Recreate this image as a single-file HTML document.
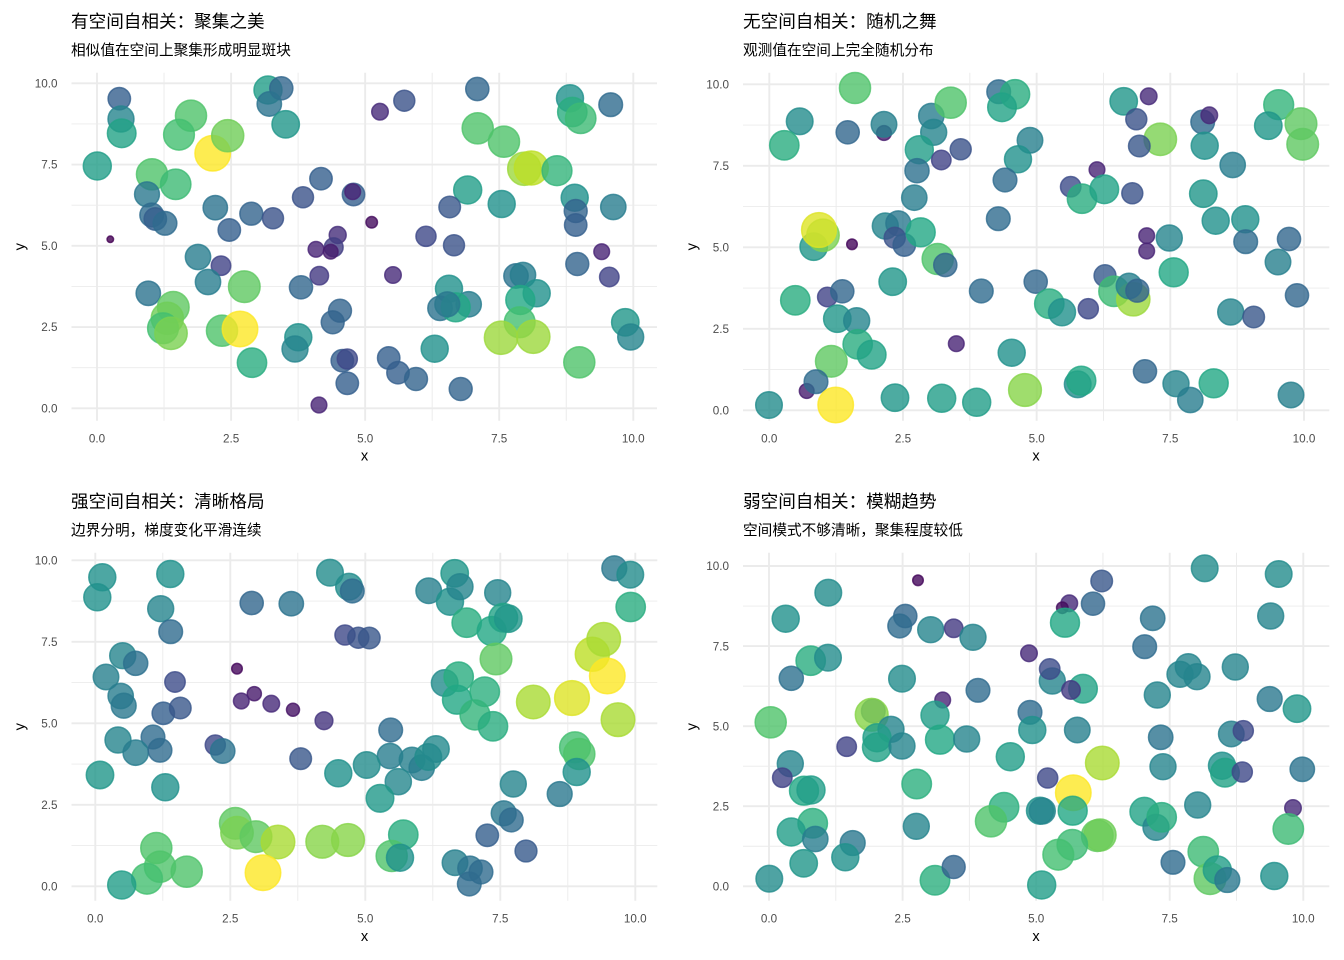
<!DOCTYPE html>
<html><head><meta charset="utf-8">
<style>
html,body{margin:0;padding:0;background:#fff;}
svg{display:block}
text{font-family:"Liberation Sans","Noto Sans CJK SC",sans-serif;}
.t{font-size:17.6px;fill:#000}
.st{font-size:14.67px;fill:#000}
.tk{font-size:11.7px;fill:#4D4D4D}
.ax{font-size:14.67px;fill:#000}
</style></head><body>
<svg id="s" width="1344" height="960" xmlns="http://www.w3.org/2000/svg">
<g id="grid"></g>
<g id="pts"></g>
<!-- titles -->
<text class="t" x="71" y="27.5">有空间自相关：聚集之美</text>
<text class="st" x="71" y="55">相似值在空间上聚集形成明显斑块</text>
<text class="t" x="743" y="27.5">无空间自相关：随机之舞</text>
<text class="st" x="743" y="55">观测值在空间上完全随机分布</text>
<text class="t" x="71" y="507.5">强空间自相关：清晰格局</text>
<text class="st" x="71" y="535">边界分明，梯度变化平滑连续</text>
<text class="t" x="743" y="507.5">弱空间自相关：模糊趋势</text>
<text class="st" x="743" y="535">空间模式不够清晰，聚集程度较低</text>
<!-- P1 ticks -->
<g class="tk" text-anchor="middle">
<text x="97" y="442.5">0.0</text><text x="231.1" y="442.5">2.5</text><text x="365.2" y="442.5">5.0</text><text x="499.2" y="442.5">7.5</text><text x="633.3" y="442.5">10.0</text>
<text x="769.3" y="442.5">0.0</text><text x="903" y="442.5">2.5</text><text x="1036.7" y="442.5">5.0</text><text x="1170.3" y="442.5">7.5</text><text x="1304" y="442.5">10.0</text>
<text x="95.3" y="922.5">0.0</text><text x="230.3" y="922.5">2.5</text><text x="365.3" y="922.5">5.0</text><text x="500.3" y="922.5">7.5</text><text x="635.3" y="922.5">10.0</text>
<text x="769" y="922.5">0.0</text><text x="902.6" y="922.5">2.5</text><text x="1036.2" y="922.5">5.0</text><text x="1169.7" y="922.5">7.5</text><text x="1303.3" y="922.5">10.0</text>
</g>
<g class="tk" text-anchor="end">
<text x="57.5" y="412.5">0.0</text><text x="57.5" y="331.2">2.5</text><text x="57.5" y="250">5.0</text><text x="57.5" y="168.7">7.5</text><text x="57.5" y="87.5">10.0</text>
<text x="729" y="414.5">0.0</text><text x="729" y="333">2.5</text><text x="729" y="251.5">5.0</text><text x="729" y="170">7.5</text><text x="729" y="88.5">10.0</text>
<text x="57.5" y="890.5">0.0</text><text x="57.5" y="809">2.5</text><text x="57.5" y="727.5">5.0</text><text x="57.5" y="646">7.5</text><text x="57.5" y="564.5">10.0</text>
<text x="729" y="890.5">0.0</text><text x="729" y="810.4">2.5</text><text x="729" y="730.4">5.0</text><text x="729" y="650.4">7.5</text><text x="729" y="570.2">10.0</text>
</g>
<!-- axis titles -->
<g class="ax" text-anchor="middle">
<text x="364.5" y="460.5">x</text><text x="1036" y="460.5">x</text>
<text x="364.5" y="941">x</text><text x="1036" y="941">x</text>
<text transform="translate(24.5,246.7) rotate(-90)">y</text>
<text transform="translate(696.5,246.7) rotate(-90)">y</text>
<text transform="translate(24.5,726.7) rotate(-90)">y</text>
<text transform="translate(696.5,726.7) rotate(-90)">y</text>
</g>
</svg>
<script>
(function(){
var NS="http://www.w3.org/2000/svg";
var stops=[[68,1,84],[72,36,117],[65,68,135],[53,95,141],[42,120,142],[33,145,140],[34,168,132],[68,191,112],[122,209,81],[189,223,38],[253,231,37]];
function vir(v){v=Math.max(0,Math.min(1,v));var f=v*10,i=Math.min(9,Math.floor(f)),t=f-i,a=stops[i],b=stops[i+1];
return "rgb("+Math.round(a[0]+(b[0]-a[0])*t)+","+Math.round(a[1]+(b[1]-a[1])*t)+","+Math.round(a[2]+(b[2]-a[2])*t)+")";}
var grid=document.getElementById("grid"),pts=document.getElementById("pts");
function line(x1,y1,x2,y2,w){var l=document.createElementNS(NS,"line");l.setAttribute("x1",x1);l.setAttribute("y1",y1);l.setAttribute("x2",x2);l.setAttribute("y2",y2);l.setAttribute("stroke","#EBEBEB");l.setAttribute("stroke-width",w);grid.appendChild(l);}
var panels=[
{l:71.5,r:657,t:72.7,b:420.7,x0:97,x10:633.3,y0:408.3,y10:83.3},
{l:743,r:1329.3,t:72.7,b:420.7,x0:769.3,x10:1304,y0:410.3,y10:84.3},
{l:71.5,r:657.3,t:552.7,b:900.7,x0:95.3,x10:635.3,y0:886.3,y10:560.3},
{l:743,r:1329.3,t:552.7,b:900.7,x0:769,x10:1303.3,y0:886.3,y10:566}
];
panels.forEach(function(p){
 [1.25,3.75,6.25,8.75].forEach(function(u){
  var x=p.x0+(p.x10-p.x0)*u/10; line(x,p.t,x,p.b,0.95);
  var y=p.y0+(p.y10-p.y0)*u/10; line(p.l,y,p.r,y,0.95);
 });
 [0,2.5,5,7.5,10].forEach(function(u){
  var x=p.x0+(p.x10-p.x0)*u/10; line(x,p.t,x,p.b,1.9);
  var y=p.y0+(p.y10-p.y0)*u/10; line(p.l,y,p.r,y,1.9);
 });
});
var D=[
[[119.3,98.7,.3],[121,119,.45],[121.7,133.3,.58],[97.3,166,.55],[152,174.3,.72],[175.7,184.3,.68],[147,194.3,.4],[151.7,215,.35],[155.3,219,.3],[165,223.3,.35],[110.3,239.3,0],[191,115.7,.72],[179,134.7,.7],[212.7,153.3,1],[227.7,135.7,.78],[268,90,.55],[281.3,88.3,.33],[269.3,104,.38],[285.7,124.3,.52],[321,178.7,.3],[303,197.3,.25],[353.5,194.5,.3],[352.7,191.7,.1],[215.3,207.7,.38],[251.3,213.7,.32],[273,218.3,.25],[229.3,230,.3],[337.7,235,.13],[333.7,247.3,.18],[316,249.3,.1],[330.7,251.7,.08],[198,257,.42],[221,265.7,.2],[319.3,275.7,.17],[208,282,.42],[244.3,286.7,.75],[301,287.3,.33],[148.3,293.3,.38],[173.3,307.3,.75],[167.3,318.3,.78],[163,328.3,.7],[171,333.3,.8],[222,330.7,.72],[240,329,1],[298.3,337.3,.5],[295,349,.45],[252,362.7,.62],[340,310.7,.32],[332.7,322.3,.32],[342.3,360.7,.3],[347.3,359,.22],[347.3,383.3,.3],[319,405,.1],
[380,111.7,.12],[404.3,100.7,.25],[477.3,89,.33],[570,98.3,.5],[572.3,112,.62],[580.7,118.3,.68],[610.7,104.7,.35],[477.7,128.3,.72],[504,141.7,.72],[524.3,168.7,.85],[531.3,168,.9],[557,170.7,.65],[467.7,190,.55],[501.7,204,.5],[449.7,207,.27],[574.7,197.7,.5],[575.7,211,.32],[575.7,225,.3],[613.3,207,.42],[371.7,222.3,.03],[426,236.3,.22],[454,245.3,.25],[601.7,251.7,.1],[577.3,264,.32],[609.3,277,.2],[393,275,.12],[449,288.7,.5],[440,308.3,.38],[468.7,304.3,.42],[455.7,307.3,.6],[447.3,304.3,.4],[516,276,.38],[523,275,.42],[536.7,293.3,.5],[520.3,300,.6],[519.7,322.3,.7],[501,337.7,.85],[533.3,336.7,.85],[579.3,362.3,.72],[625.3,322.3,.52],[630.7,337,.45],[434.7,348.7,.5],[388.7,358,.3],[398,372.7,.3],[416,379,.32],[460.7,389,.32]],
[[855,88,.72],[799.7,121.3,.48],[784.3,145.3,.62],[847.7,132.3,.33],[884,133,.08],[884,124.3,.43],[931.3,116,.42],[950.7,102.7,.72],[933.7,132.3,.45],[919.3,149.7,.55],[941.3,160,.2],[960.7,149.3,.25],[917,170.7,.37],[914.3,197.7,.42],[998.7,91.7,.35],[1015,94.3,.62],[1002,107.3,.58],[813.7,246.7,.52],[823,235.3,.8],[819,230,.95],[852,244.3,.02],[885.3,226,.45],[898.3,223.3,.4],[894.7,237.7,.25],[904.3,245,.3],[920.7,232.3,.6],[937.7,259,.72],[945.3,265,.33],[892.7,281.7,.52],[981.3,291,.35],[795.3,300.3,.62],[827.3,297,.2],[842.3,291.3,.33],[837.3,318.7,.52],[856.7,320.7,.45],[857.7,344.3,.62],[871.7,354.7,.58],[956.3,343.7,.1],[831.3,361.3,.75],[806.7,391,.08],[816,381.7,.35],[769,405,.48],[835.7,405,1],[895,397.7,.52],[941.7,398.3,.55],[976.7,402.3,.55],[998.3,218.7,.35],[1030,140.3,.43],[1018,159.3,.5],[1005,180,.35],[1123.7,101.3,.52],[1148.7,96.3,.12],[1136.3,119.3,.25],[1160.3,139.3,.8],[1139.3,146,.27],[1202.7,122,.35],[1209.3,115.3,.12],[1204.7,145.7,.5],[1232.7,165,.42],[1278.7,104.7,.65],[1268.3,125.7,.52],[1301,123.7,.75],[1302.7,144.3,.75],[1097,169.7,.1],[1070.7,186.7,.23],[1082,198.7,.62],[1104.3,189.3,.58],[1132.3,193.3,.25],[1203.3,193.7,.52],[1215.7,220.7,.5],[1245.3,219.3,.5],[1245.7,241.7,.35],[1146.7,235.7,.1],[1146.7,251,.1],[1169.3,238,.45],[1289,239,.33],[1278,262,.43],[1173.7,272.3,.6],[1035.7,281.7,.33],[1049.3,303.7,.62],[1062,312.3,.5],[1088.3,308.7,.22],[1105,275.7,.28],[1114,291.3,.68],[1133.3,299.3,.85],[1129,286,.43],[1137.3,290.7,.32],[1297,295.3,.33],[1230.7,312,.45],[1253.7,317,.27],[1145,371.3,.33],[1176,383.7,.45],[1190.3,400,.42],[1213.7,383.3,.6],[1291,395,.43],[1077.7,384.3,.48],[1081.3,380.7,.6],[1025,390,.82],[1011.7,352.7,.5]],
[[102.3,577.3,.5],[97.3,597.3,.5],[170.3,574,.5],[160.7,608.7,.45],[170.7,631.7,.35],[251.7,603,.33],[291.3,603.7,.38],[122.7,655.7,.45],[135.7,663.3,.37],[106,677,.43],[120.7,696,.42],[123.7,705.7,.4],[175,682,.23],[163.3,713.3,.3],[180.3,708,.27],[237,668.7,.02],[254.3,693.7,.07],[241.3,701,.1],[271.3,703.7,.12],[293,709.7,.05],[324,720.7,.15],[118,740,.45],[153,737,.35],[135.7,752.7,.42],[160,750.3,.35],[215.3,745,.22],[222.7,751,.38],[300.7,758.7,.27],[100,775,.52],[165.3,787.3,.5],[338.3,773.3,.5],[235.3,823.3,.75],[237,832.7,.8],[256,836.7,.75],[278,842,.87],[322.3,841.7,.82],[348,840,.82],[263,872.7,1],[156.3,848,.72],[160,866.7,.72],[186.7,871.7,.72],[147,878.7,.7],[121.7,885,.55],[330,572.7,.48],[349,586.7,.48],[352.3,591,.35],[345,635,.22],[358.3,637.7,.25],[369.3,638,.27],[428.7,590.7,.43],[454.7,573.3,.52],[450,601.7,.5],[460,586.7,.45],[497.7,592.7,.45],[466.7,622.7,.62],[491.7,631,.6],[503.3,617.7,.58],[508.3,618.7,.52],[496,659,.75],[614.3,568.3,.4],[630.3,574.7,.48],[630.7,607,.62],[592.3,654.3,.9],[603.7,639.3,.87],[607.3,676,1],[533.3,702,.87],[572,698,.95],[618,719.7,.87],[444.7,683,.48],[458.7,676.7,.62],[457,699.7,.6],[484.7,691.7,.63],[475,715,.65],[493,726.3,.62],[575,747.3,.7],[579.3,754,.72],[576.7,772,.5],[559.7,794,.4],[513.3,784,.45],[503.7,813.3,.4],[511.3,820,.35],[487.3,835.3,.3],[526,851,.28],[390.7,730,.35],[390,756,.42],[366.7,765,.48],[412,760,.43],[421.7,767.7,.42],[428.3,757,.48],[436,749,.47],[398.3,781.7,.46],[380,798.3,.53],[403.3,834.7,.62],[391.7,856,.72],[400,857.7,.5],[455,862.7,.43],[470,868.3,.38],[481,872,.35],[469.3,884,.35]],
[[828.3,592.7,.48],[785.7,618.7,.5],[918,580.3,.02],[905.3,616,.33],[899.7,626,.35],[930.7,629.7,.45],[953.7,628.3,.17],[973,637.3,.45],[810.7,660.7,.62],[828,657.7,.48],[791.3,678.3,.37],[902,678.7,.48],[978,690.3,.35],[942.7,700,.1],[770.7,722.3,.72],[873.3,711,.35],[871.7,714.7,.82],[891,729.3,.45],[935,715.3,.55],[877,737.7,.55],[876.7,747.3,.57],[902,746,.45],[940,739.7,.6],[966.7,739,.45],[846.7,746.7,.2],[790.3,763.7,.45],[782.3,777.7,.2],[804,790.7,.6],[811,790,.55],[916.7,784,.63],[1010.3,756.7,.55],[1004,807.3,.63],[991,821.3,.72],[916.3,826.3,.45],[812.7,823.3,.63],[791.3,832,.55],[815.3,839,.42],[852.7,843,.4],[845.3,857.3,.5],[803.7,863.3,.52],[769.3,878.7,.48],[935,880.3,.63],[953.7,867,.32],
[1101.7,581,.27],[1069.3,603.3,.12],[1062.3,607.7,.03],[1093,603.7,.33],[1065,622.7,.6],[1029,653.3,.12],[1052.3,681,.45],[1049.7,669,.23],[1083,688.7,.58],[1071,690,.17],[1030,712.3,.35],[1032.3,730,.5],[1077.3,730,.43],[1047.7,778,.22],[1102.3,763,.87],[1073.3,792.7,1],[1040,810.7,.5],[1042.3,811,.45],[1072.7,810.7,.6],[1097.3,835.7,.75],[1100,835,.78],[1072.3,844.7,.68],[1058.3,854.7,.7],[1041.7,885,.55],[1204.7,568.3,.48],[1278.7,574,.48],[1152.7,618.3,.38],[1270.7,616,.45],[1144.7,646.7,.35],[1188.3,666.7,.45],[1180,674.3,.45],[1197,676.7,.45],[1235.3,667,.45],[1157.3,695,.45],[1269.7,699,.4],[1297,708.7,.52],[1160.7,737.3,.38],[1231.3,734,.43],[1243.3,730.7,.22],[1163,766.7,.45],[1222,765.7,.5],[1225,772.7,.58],[1242.3,772,.22],[1302.3,769.3,.38],[1293,808,.12],[1288.3,829,.68],[1197.7,805,.45],[1144.3,811.7,.58],[1156,827.3,.45],[1161.7,817.3,.62],[1173,862.3,.35],[1203.3,851.7,.68],[1210,878.7,.75],[1217.3,870,.55],[1227.3,880,.4],[1274.3,876,.5]]
];
D.forEach(function(arr){
 arr.forEach(function(p){
  var v=p[2],rt=4+14.5*Math.sqrt(v),c=vir(v);
  var e=document.createElementNS(NS,"circle");
  e.setAttribute("cx",p[0]);e.setAttribute("cy",p[1]);e.setAttribute("r",Math.max(1,rt-0.75));
  e.setAttribute("fill",c);e.setAttribute("fill-opacity","0.8");
  e.setAttribute("stroke",c);e.setAttribute("stroke-opacity","0.8");e.setAttribute("stroke-width","1.5");
  pts.appendChild(e);
 });
});
})();
</script>
</body></html>
